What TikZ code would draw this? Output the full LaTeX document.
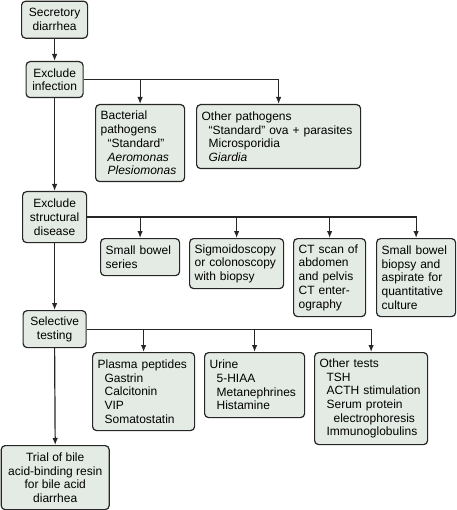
\documentclass[tikz,border=0pt]{standalone}
\usepackage{fontspec}
\setmainfont{Liberation Sans}
\usetikzlibrary{arrows.meta}
\definecolor{boxfill}{HTML}{E3EBE4}
\definecolor{boxline}{HTML}{262626}
\newcommand{\ind}{\hspace*{7pt}}
\tikzset{
  box/.style={draw=boxline, fill=boxfill, line width=1.2pt, rounded corners=4pt, anchor=north west,
    inner xsep=5pt, inner ysep=3pt, font=\fontsize{12}{13.7}\selectfont},
  cbox/.style={box, align=center},
  lbox/.style={box, align=left},
  arr/.style={-{Latex[length=7pt,width=5.5pt]}, line width=1.2pt, draw=boxline},
}

\begin{document}
\begin{tikzpicture}[x=1pt, y=-1pt]
    \useasboundingbox (0,0) rectangle (456,510);

    %main column
    \node[cbox, minimum width=66pt, minimum height=37pt] (sec) at (21,0.6) {Secretory\\diarrhea};
    \node[cbox, minimum width=57pt, minimum height=36pt] (inf) at (25.5,61) {Exclude\\infection};
    \node[cbox, minimum width=64pt, minimum height=51pt] (struct) at (22,191) {Exclude\\structural\\disease};
    \node[cbox, minimum width=63pt, minimum height=37pt] (sel) at (22.5,310) {Selective\\testing};
    \node[cbox, minimum width=108pt, minimum height=64pt] (trial) at (0.6,445) {Trial of bile\\acid-binding resin\\for bile acid\\diarrhea};

    %infection
    \node[lbox, text width=79pt, minimum height=77pt] (bact) at (95,104) {Bacterial\\pathogens\\\ind “Standard”\\\ind\textit{Aeromonas}\\\ind\textit{Plesiomonas}};
    \node[lbox, text width=154pt, minimum height=64pt] (oth) at (196,104) {Other pathogens\\\ind “Standard” ova + parasites\\\ind Microsporidia\\\ind\textit{Giardia}};

    %structural disease
    \node[lbox, text width=69pt, minimum height=37pt] (sbs) at (100,238) {Small bowel\\series};
    \node[lbox, text width=84pt, minimum height=50pt] (sig) at (189,238) {Sigmoidoscopy\\or colonoscopy\\with biopsy};
    \node[lbox, text width=62pt, minimum height=78pt] (ct) at (293,238) {CT scan of\\abdomen\\and pelvis\\CT enter-\\ography};
    \node[lbox, text width=69pt, minimum height=78pt] (bio) at (376,238) {Small bowel\\biopsy and\\aspirate for\\quantitative\\culture};

    %selective testing
    \node[lbox, text width=92pt, minimum height=78pt] (pep) at (92,352) {Plasma peptides\\\ind Gastrin\\\ind Calcitonin\\\ind VIP\\\ind Somatostatin};
    \node[lbox, text width=90pt, minimum height=65pt] (uri) at (204,352) {Urine\\\ind 5-HIAA\\\ind Metanephrines\\\ind Histamine};
    \node[lbox, text width=103pt, minimum height=92pt] (tst) at (314,352) {Other tests\\\ind TSH\\\ind ACTH stimulation\\\ind Serum protein\\\ind\ind electrophoresis\\\ind Immunoglobulins};

    %arrows
    \draw[arr] (sec.south) -- (inf.north);
    \draw[arr] (inf.south) -- (struct.north);
    \draw[arr] (struct.south) -- (sel.north);
    \draw[arr] (sel.south) -- (trial.north);

    \draw[arr] (inf.east) -| (oth.north);
    \draw[arr] (inf.east -| bact.north) -- (bact.north);

    \draw[arr] (struct.east) -| (bio.north);
    \foreach \b in {sbs,sig,ct}
        \draw[arr] (struct.east -| \b.north) -- (\b.north);

    \draw[arr] (sel.east) -| (tst.north);
    \foreach \b in {pep,uri}
        \draw[arr] (sel.east -| \b.north) -- (\b.north);
\end{tikzpicture}
\end{document}
